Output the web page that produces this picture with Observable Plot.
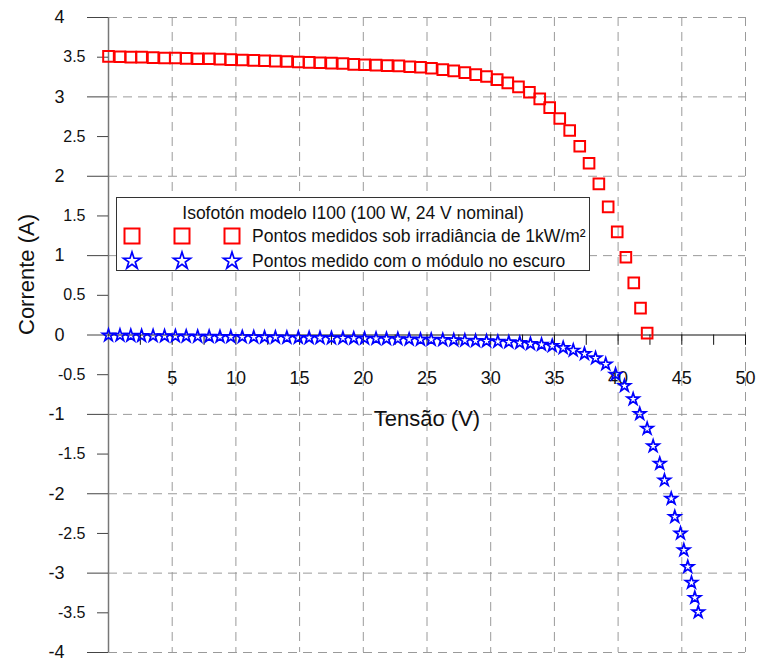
<!DOCTYPE html>
<html>
<head>
<meta charset="utf-8">
<script src="https://cdn.jsdelivr.net/npm/d3@7"></script>
<script src="https://cdn.jsdelivr.net/npm/@observablehq/plot@0.6"></script>
<style>
  html, body { margin: 0; padding: 0; background: #fff; overflow: hidden; }
  #wrap { position: relative; width: 757px; height: 662px; font-family: "Liberation Sans", Arial, sans-serif; }
  #legend { position: absolute; left: 116px; top: 197px; width: 472px; height: 72px; border: 1px solid #333; background: #fff; box-sizing: content-box; }
  #legend .title { position: absolute; left: 0; right: 0; top: 5px; text-align: center; font-size: 17.5px; line-height: 20px; color: #111; }
  #legend .row { position: absolute; left: 0; height: 24px; font-size: 17.5px; color: #111; }
  #legend .row span { position: absolute; left: 135px; white-space: nowrap; line-height: 24px; }
  #legend svg { position: absolute; top: 0; }
</style>
</head>
<body>
<div id="wrap"></div>
<script>
// ---- data ----
const lightV = [0.0, 0.9, 1.75, 2.6, 3.5, 4.4, 5.25, 6.1, 7.0, 7.9, 8.75, 9.6, 10.5, 11.4, 12.25, 13.1, 14.0, 14.9, 15.75, 16.6, 17.5, 18.4, 19.25, 20.1, 21.0,
  21.88, 22.79, 23.65, 24.49, 25.35, 26.24, 27.1, 27.97, 28.83, 29.67, 30.51, 31.34, 32.18, 33.04, 33.85, 34.63, 35.42, 36.2, 36.99, 37.72, 38.49, 39.22, 39.93, 40.61, 41.23, 41.76, 42.28];
const lightI = [3.51, 3.505, 3.50, 3.50, 3.495, 3.49, 3.49, 3.485, 3.48, 3.48, 3.475, 3.47, 3.465, 3.46, 3.455, 3.45, 3.445, 3.44, 3.435, 3.43, 3.425, 3.42, 3.41, 3.405, 3.40,
  3.394, 3.39, 3.38, 3.373, 3.36, 3.344, 3.327, 3.306, 3.28, 3.256, 3.218, 3.176, 3.126, 3.058, 2.975, 2.865, 2.727, 2.576, 2.378, 2.164, 1.904, 1.615, 1.30, 0.98, 0.657, 0.338, 0.023];
const darkV = [0.0, 0.9, 1.75, 2.6, 3.5, 4.4, 5.25, 6.1, 7.0, 7.9, 8.75, 9.6, 10.5, 11.4, 12.25, 13.1, 14.0, 14.9, 15.75, 16.6, 17.5, 18.4, 19.25, 20.1, 21.0,
  21.82, 22.71, 23.6, 24.49, 25.33, 26.24, 27.1, 27.97, 28.81, 29.67, 30.56, 31.42, 32.28, 33.12, 33.99, 34.83, 35.69, 36.48, 37.36, 38.23, 39.03, 39.8, 40.5, 41.18, 41.7, 42.28, 42.75, 43.27, 43.64, 44.17, 44.45, 44.9, 45.16, 45.47, 45.76, 46.02, 46.29];
const darkI = [-0.005, -0.006, -0.008, -0.010, -0.012, -0.014, -0.015, -0.017, -0.019, -0.020, -0.022, -0.024, -0.025, -0.027, -0.029, -0.030, -0.032, -0.034, -0.035, -0.037, -0.039, -0.040, -0.042, -0.044, -0.046,
  -0.048, -0.050, -0.054, -0.057, -0.058, -0.061, -0.065, -0.069, -0.074, -0.077, -0.082, -0.090, -0.099, -0.111, -0.120, -0.136, -0.161, -0.195, -0.237, -0.292, -0.368, -0.497, -0.640, -0.808, -0.993, -1.18, -1.40, -1.62, -1.83, -2.06, -2.29, -2.50, -2.71, -2.92, -3.12, -3.31, -3.49];

const xTicks = [5, 10, 15, 20, 25, 30, 35, 40, 45, 50];
const xMinorTicks = [2.5, 7.5, 12.5, 17.5, 22.5, 27.5, 32.5, 37.5, 42.5, 47.5];
const yTicks = [-4, -3, -2, -1, 0, 1, 2, 3, 4];
const yMinorTicks = [-3.5, -2.5, -1.5, -0.5, 0.5, 1.5, 2.5, 3.5];
const yGrid = [-4, -3, -2, -1, 1, 2, 3, 4];

const titleText = "Isofotón modelo I100 (100 W, 24 V nominal)";
const seriesLight = "Pontos medidos sob irradiância de 1kW/m²";
const seriesDark = "Pontos medido com o módulo no escuro";
const xLabel = "Tensão (V)";
const yLabel = "Corrente (A)";

const light = lightV.map((v, i) => ({v, i: lightI[i]}));
const dark = darkV.map((v, i) => ({v, i: darkI[i]}));

const font = "Liberation Sans, Arial, sans-serif";

const chart = Plot.plot({
  width: 757,
  height: 662,
  marginLeft: 108,
  marginRight: 12,
  marginTop: 17,
  marginBottom: 10,
  style: {fontFamily: font, background: "white", color: "#111"},
  x: {domain: [0, 50], axis: null, label: null},
  y: {domain: [-4, 4], label: null},
  marks: [
    Plot.gridX(xTicks, {stroke: "#9a9a9a", strokeOpacity: 1, strokeDasharray: "9,6"}),
    Plot.gridY(yGrid, {stroke: "#9a9a9a", strokeOpacity: 1, strokeDasharray: "9,6"}),
    Plot.ruleX([0], {stroke: "#777", strokeWidth: 1.5}),
    Plot.ruleY([0], {stroke: "#111", strokeWidth: 1.2}),
    Plot.axisY(yTicks, {anchor: "left", label: null, tickSize: 21, tickPadding: 23, fontSize: 18, stroke: "#444", fill: "#111", tickFormat: d => String(d)}),
    Plot.axisY(yMinorTicks, {anchor: "left", label: null, tickSize: 11, tickPadding: 12, fontSize: 16, stroke: "#444", fill: "#111", tickFormat: d => String(d)}),
    Plot.ruleX(xTicks.concat(xMinorTicks), {x: d => d, y1: 0, y2: -0.13, stroke: "#111"}),
    Plot.text(xTicks, {x: d => d, y: 0, dy: 43, text: d => String(d), fontSize: 18, fill: "#111"}),
    Plot.text([xLabel], {frameAnchor: "top", dy: 393, fontSize: 22, fill: "#111"}),
    Plot.text([yLabel], {frameAnchor: "left", dx: -82, rotate: -90, fontSize: 22, fill: "#111"}),
    Plot.dot(light, {x: "v", y: "i", symbol: "square", r: 6, stroke: "#ff0000", strokeWidth: 2, fill: "none"}),
    Plot.dot(dark, {x: "v", y: "i", symbol: "star", r: 3.8, stroke: "#0000ff", strokeWidth: 1.7, fill: "none"})
  ]
});

const wrap = document.getElementById("wrap");
wrap.appendChild(chart);

// ---- legend (overlay inside the plot area) ----
const legend = document.createElement("div");
legend.id = "legend";
const title = document.createElement("div");
title.className = "title";
title.textContent = titleText;
legend.appendChild(title);

function row(top, label, symbol, size, color, sw) {
  const r = document.createElement("div");
  r.className = "row";
  r.style.top = top + "px";
  r.style.width = "100%";
  const path = d3.symbol(symbol, size)();
  [15, 65, 115].forEach(cx => {
    const svg = d3.create("svg").attr("width", 24).attr("height", 24)
      .style("left", (cx - 12) + "px");
    svg.append("path").attr("d", path).attr("transform", "translate(12,12)")
      .attr("fill", "none").attr("stroke", color).attr("stroke-width", sw);
    r.appendChild(svg.node());
  });
  const s = document.createElement("span");
  s.textContent = label;
  r.appendChild(s);
  legend.appendChild(r);
}
row(26, seriesLight, d3.symbolSquare, 225, "#ff0000", 2);
row(51, seriesDark, d3.symbolStar, 90, "#0000ff", 1.7);
wrap.appendChild(legend);
</script>
</body>
</html>
